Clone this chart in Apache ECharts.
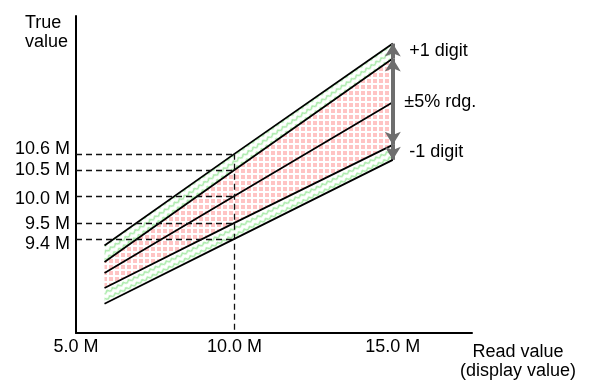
<!DOCTYPE html>
<html>
<head>
<meta charset="utf-8">
<script src="https://cdn.jsdelivr.net/npm/echarts@6/dist/echarts.min.js"></script>
<style>
    html, body { margin: 0; padding: 0; background: #fff; }
    #chart { width: 592px; height: 381px; }
</style>
</head>
<body>
<div id="chart"></div>
<script>
// read value (M) where the band lines are sampled
const readX = [5.9, 10, 15];
// true value of each boundary line (schematic units, M)
const plusDigit = [7.36, 12.25, 18.13];   // +5% rdg. +1 digit
const plusPct = [6.49, 11.39, 17.33];     // +5% rdg.
const exact = [5.9, 10, 15];              // true = read
const minusPct = [5.10, 8.57, 12.73];     // -5% rdg.
const minusDigit = [4.26, 7.72, 11.93];   // -5% rdg. -1 digit
const yTickLabels = ['10.6 M', '10.5 M', '10.0 M', '9.5 M', '9.4 M'];
const xTickLabels = ['5.0 M', '10.0 M', '15.0 M'];
const bandNotes = ['+1 digit', '±5% rdg.', '-1 digit'];

const FONT = 'Liberation Sans';
const FS = 18;
const yMin = 2.7, yMax = 19.6;

// y ticks sit where each line crosses 10.0 M read
const lines = [plusDigit, plusPct, exact, minusPct, minusDigit];
const yTickValues = lines.map(l => l[1]);

function pairs(ys) {
    return readX.map((x, i) => [x, ys[i]]);
}

// fill patterns
function pinkPattern() {
    let c = document.createElement('canvas');
    c.width = 6; c.height = 6;
    let ctx = c.getContext('2d');
    ctx.fillStyle = '#fff';
    ctx.fillRect(0, 0, 6, 6);
    ctx.fillStyle = '#ffc4c4';
    ctx.fillRect(1, 1, 4, 4);
    return { image: c, repeat: 'repeat' };
}
function greenPattern(rot) {
    let c = document.createElement('canvas');
    c.width = 6; c.height = 6;
    let ctx = c.getContext('2d');
    ctx.fillStyle = '#fff';
    ctx.fillRect(0, 0, 6, 6);
    ctx.strokeStyle = '#a8eaa8';
    ctx.lineWidth = 1.6;
    ctx.beginPath();
    ctx.moveTo(0, 4.2);
    ctx.lineTo(3, 1.8);
    ctx.lineTo(6, 4.2);
    ctx.stroke();
    return { image: c, repeat: 'repeat', rotation: rot };
}

// bands between boundary lines
const bands = [
    { upper: plusDigit, lower: plusPct, fill: greenPattern(-0.61) },
    { upper: plusPct, lower: minusPct, fill: pinkPattern() },
    { upper: minusPct, lower: minusDigit, fill: greenPattern(-0.46) }
];

let myChart = echarts.init(document.getElementById('chart'), null, { renderer: 'canvas' });

function blackLine(name, ys) {
    return {
        name: name,
        type: 'line',
        data: pairs(ys),
        symbol: 'none',
        silent: true,
        z: 4,
        lineStyle: { color: '#000', width: 1.8 }
    };
}

let yLabelRich = {
    s0: { padding: [0, 0, 10, 0] },
    s1: { padding: [0, 0, 0, 0] },
    s2: { padding: [6, 0, 0, 0] },
    s3: { padding: [2, 0, 0, 0] },
    s4: { padding: [11, 0, 0, 0] }
};
Object.keys(yLabelRich).forEach(k => {
    yLabelRich[k].fontSize = FS;
    yLabelRich[k].fontFamily = FONT;
    yLabelRich[k].color = '#000';
});

let option = {
    animation: false,
    backgroundColor: '#fff',
    grid: {
        left: 76,
        right: 120,
        top: 16,
        bottom: 48,
        containLabel: false,
        outerBoundsMode: 'none'
    },
    xAxis: {
        type: 'value',
        min: 5,
        max: 17.5,
        interval: 5,
        axisLine: { lineStyle: { color: '#000', width: 2 } },
        axisTick: { show: false },
        splitLine: { show: false },
        axisLabel: {
            color: '#000',
            fontSize: FS,
            fontFamily: FONT,
            margin: 5,
            formatter: function (v) {
                let i = Math.round((v - 5) / 5);
                return (Math.abs(v - 5 - i * 5) < 1e-6 && xTickLabels[i]) ? xTickLabels[i] : '';
            }
        }
    },
    yAxis: {
        type: 'value',
        min: yMin,
        max: yMax,
        axisLine: { show: true, lineStyle: { color: '#000', width: 2 } },
        axisTick: { show: false },
        splitLine: { show: false },
        axisLabel: {
            customValues: yTickValues,
            margin: 6,
            color: '#000',
            fontSize: FS,
            fontFamily: FONT,
            rich: yLabelRich,
            formatter: function (v) {
                let i = yTickValues.findIndex(t => Math.abs(t - v) < 1e-6);
                return i < 0 ? '' : '{s' + i + '|' + yTickLabels[i] + '}';
            }
        }
    },
    graphic: [
        {
            type: 'text',
            style: {
                x: 25,
                y: 14,
                text: 'True\nvalue',
                font: FS + 'px "' + FONT + '"',
                lineHeight: 19,
                align: 'left',
                verticalAlign: 'top',
                fill: '#000'
            }
        },
        {
            type: 'text',
            style: {
                x: 518,
                y: 362,
                text: 'Read value\n(display value)',
                font: FS + 'px "' + FONT + '"',
                lineHeight: 19,
                align: 'center',
                verticalAlign: 'middle',
                fill: '#000'
            }
        }
    ],
    series: [
        {
            name: 'bands',
            type: 'custom',
            silent: true,
            z: 2,
            data: bands.map((b, i) => [i]),
            renderItem: function (params, api) {
                let b = bands[params.dataIndex];
                let top = readX.map((x, i) => api.coord([x, b.upper[i]]));
                let bottom = readX.map((x, i) => api.coord([x, b.lower[i]])).reverse();
                return {
                    type: 'polygon',
                    shape: { points: top.concat(bottom) },
                    style: { fill: b.fill, stroke: null }
                };
            }
        },
        blackLine('+1 digit', plusDigit),
        blackLine('+5%', plusPct),
        Object.assign(blackLine('exact', exact), {
            markLine: {
                silent: true,
                symbol: 'none',
                label: { show: false },
                lineStyle: { type: [6, 4], color: '#111', width: 1.3 },
                data: yTickValues.map(v => [{ coord: [5, v] }, { coord: [10, v] }])
                    .concat([[{ coord: [10, yTickValues[0]] }, { coord: [10, yMin] }]])
            }
        }),
        blackLine('-5%', minusPct),
        Object.assign(blackLine('-1 digit', minusDigit), {
            z: 6,
            markLine: {
                silent: true,
                symbolSize: [12, 13],
                label: { show: false },
                lineStyle: { type: 'solid', color: '#6e6e6e', width: 4 },
                data: [
                    [{ coord: [15, plusPct[2]], symbol: 'none' }, { coord: [15, plusDigit[2]], symbol: 'arrow' }],
                    [{ coord: [15, minusPct[2]], symbol: 'arrow' }, { coord: [15, plusPct[2]], symbol: 'arrow' }],
                    [{ coord: [15, minusPct[2]], symbol: 'none' }, { coord: [15, minusDigit[2]], symbol: 'arrow' }]
                ]
            },
            markPoint: {
                silent: true,
                symbol: 'circle',
                symbolSize: 1,
                itemStyle: { color: 'rgba(0,0,0,0)' },
                label: {
                    show: true,
                    position: 'right',
                    color: '#000',
                    fontSize: FS,
                    fontFamily: FONT
                },
                data: [
                    { coord: [15, (plusDigit[2] + plusPct[2]) / 2], label: { formatter: bandNotes[0], distance: 16 } },
                    { coord: [15, (plusPct[2] + minusPct[2]) / 2], label: { formatter: bandNotes[1], distance: 11 } },
                    { coord: [15, (minusPct[2] + minusDigit[2]) / 2], label: { formatter: bandNotes[2], distance: 16 } }
                ]
            }
        })
    ]
};
myChart.setOption(option);
</script>
</body>
</html>
